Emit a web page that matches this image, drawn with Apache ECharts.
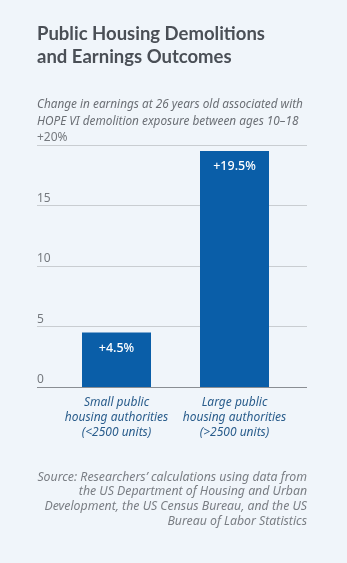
<!DOCTYPE html>
<html><head><meta charset="utf-8">
<script src="https://cdn.jsdelivr.net/npm/echarts@6/dist/echarts.min.js"></script>
<style>html,body{margin:0;padding:0;background:#f0f5fa;}#c{width:347px;height:563px;}</style>
</head><body><div id="c"></div>
<script>
const categories = ['Small public\nhousing authorities\n(<2500 units)', 'Large public\nhousing authorities\n(>2500 units)'];
const values = [4.5, 19.5];
const barLabels = ['+4.5%', '+19.5%'];
const yTicks = [0, 5, 10, 15, 20];
const yTickLabels = ['0', '5', '10', '15', '+20%'];
const titleText = 'Public Housing Demolitions\nand Earnings Outcomes';
const subtitleText = 'Change in earnings at 26 years old associated with\nHOPE VI demolition exposure between ages 10–18';
const sourceText = 'Source: Researchers\u2019 calculations using data from\nthe US Department of Housing and Urban\nDevelopment, the US Census Bureau, and the US\nBureau of Labor Statistics';

const chart = echarts.init(document.getElementById('c'), null, {renderer: 'canvas'});
const font = '"Noto Sans","Open Sans",sans-serif';
chart.setOption({
  backgroundColor: '#f0f5fa',
  animation: false,
  graphic: [
    {type: 'text', x: 37, y: 23, style: {text: titleText, font: 'bold 18.5px Lato,"Noto Sans",sans-serif', fill: '#4a4f56', lineHeight: 23}},
    {type: 'text', x: 37, y: 96.5, style: {text: subtitleText, font: 'italic 11.8px ' + font, fill: '#6b6f75', lineHeight: 16.5}},
    {type: 'text', x: 307, y: 470, style: {text: sourceText, font: 'italic 12.3px ' + font, fill: '#7a7e84', lineHeight: 14.6, align: 'right'}}
  ],
  grid: [
    {left: 37, width: 270, top: 145, height: 242},
    {left: 57.5, width: 236, top: 145, height: 242}
  ],
  xAxis: [
    {gridIndex: 0, type: 'category', data: categories, show: false},
    {gridIndex: 1, type: 'category', data: categories,
     axisLine: {show: false}, axisTick: {show: false},
     axisLabel: {interval: 0, margin: 8, fontFamily: font, fontSize: 12, fontStyle: 'italic', color: '#2a5d8c', lineHeight: 15}}
  ],
  yAxis: [
    {gridIndex: 0, type: 'value', min: 0, max: 20, interval: 5,
     axisLine: {show: false}, axisTick: {show: false},
     splitLine: {lineStyle: {color: '#c9cdd1', width: 1}},
     axisLabel: {inside: true, align: 'left', verticalAlign: 'bottom', margin: 0, padding: [0,0,1,0],
       fontFamily: font, fontSize: 12, color: '#75797e',
       formatter: v => yTickLabels[yTicks.indexOf(v)]}},
    {gridIndex: 1, type: 'value', min: 0, max: 20, interval: 5, show: false}
  ],
  series: [
    {type: 'line', xAxisIndex: 0, yAxisIndex: 0, data: [], silent: true,
     markLine: {symbol: 'none', silent: true, label: {show: false},
       lineStyle: {color: '#8a8e93', width: 1.2, type: 'solid'}, data: [{yAxis: 0}]}},
    {type: 'bar', xAxisIndex: 1, yAxisIndex: 1, data: values, barWidth: 69,
     itemStyle: {color: '#0a5ea8'},
     label: {show: true, position: 'insideTop', distance: 9, color: '#ffffff', fontFamily: font, fontSize: 12.5, fontWeight: 500,
       formatter: p => barLabels[p.dataIndex]}}
  ]
});
</script></body></html>
